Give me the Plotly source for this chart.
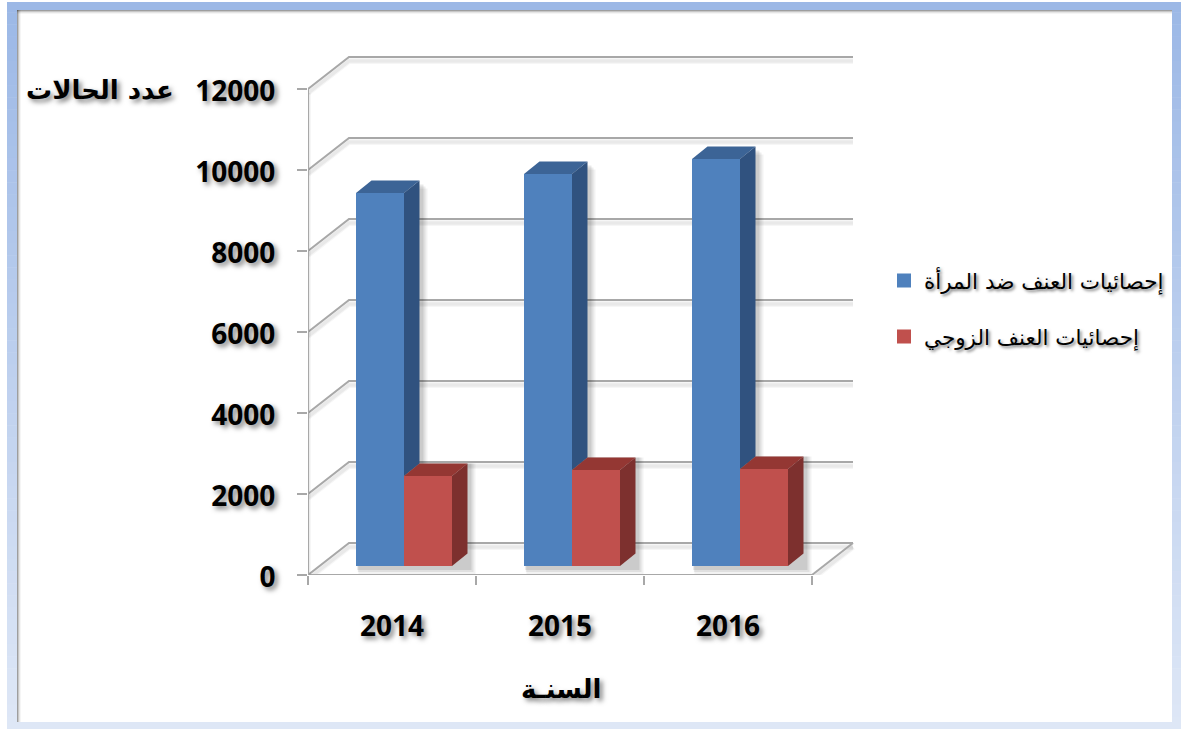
import plotly.graph_objects as go

# ---- data ----
years = ["2014", "2015", "2016"]
women = [9210, 9680, 10050]
spousal = [2220, 2370, 2395]
y_ticks = [0, 2000, 4000, 6000, 8000, 10000, 12000]
y_tick_labels = ["0", "2000", "4000", "6000", "8000", "10000", "12000"]
name_women = "إحصائيات العنف ضد المرأة"
name_spousal = "إحصائيات العنف الزوجي"
title_y = "عدد الحالات"
title_x = "السنـة"

# ---- geometry (page pixels -> axis scales) ----
W, H = 1181, 729
LAYOUT_H = 749
PX_X0, PX_Y0 = 308, 575
PX_PER_X = 168.0
PX_PER_Y = 0.0405
PX_RIGHT, PX_TOP = 870, 45
x_range = [0, (PX_RIGHT - PX_X0) / PX_PER_X]
y_range = [0, (PX_Y0 - PX_TOP) / PX_PER_Y]
def dxp(p): return p / PX_PER_X
def dyp(p): return p / PX_PER_Y

WALL_DX, WALL_DY = dxp(41), dyp(32)
WALL_END = dxp(853 - PX_X0)
BAR_W = dxp(48)
BAR_START = dxp(48)
BAR_FLOOR = dyp(9)
BAR_DX, BAR_DY = dxp(15.5), dyp(12.5)
GRID = "#a8a8a8"

fig = go.Figure()

def poly(xs, ys, color, axes=("x", "y")):
    fig.add_trace(go.Scatter(x=xs + xs[:1], y=ys + ys[:1], mode="lines", fill="toself",
                             fillcolor=color, line=dict(width=0), hoverinfo="skip",
                             showlegend=False, xaxis=axes[0], yaxis=axes[1], cliponaxis=False))

def wall_line(xs, ys):
    for off, w, a in [(4, 6, 0.035), (4, 3.5, 0.05)]:
        fig.add_trace(go.Scatter(x=xs, y=[v - dyp(off) for v in ys], mode="lines",
                                 line=dict(color=f"rgba(0,0,0,{a})", width=w), hoverinfo="skip",
                                 showlegend=False, cliponaxis=False))
    fig.add_trace(go.Scatter(x=xs, y=ys, mode="lines", line=dict(color=GRID, width=2),
                             hoverinfo="skip", showlegend=False, cliponaxis=False))

# back wall grid lines and floor
for v in y_ticks:
    wall_line([0, WALL_DX, WALL_END], [v, v + WALL_DY, v + WALL_DY])
wall_line([len(years), WALL_END], [0, WALL_DY])
wall_line([0, len(years)], [0, 0])

# soft bar shadows
for i in range(len(years)):
    left = i + BAR_START
    right = left + 2 * BAR_W
    for off, a in [(8, 0.05), (6, 0.07), (4, 0.09)]:
        ox, oy = dxp(off), dyp(off)
        poly([left + ox * 0.3, right + BAR_DX + ox, right + BAR_DX + ox, left + ox * 0.3],
             [BAR_FLOOR - oy, BAR_FLOOR - oy, spousal[i] + BAR_FLOOR + BAR_DY, spousal[i] + BAR_FLOOR + BAR_DY],
             f"rgba(0,0,0,{a})")
        poly([left + BAR_W, left + BAR_W + BAR_DX + ox, left + BAR_W + BAR_DX + ox, left + BAR_W],
             [BAR_FLOOR, BAR_FLOOR, women[i] + BAR_FLOOR + BAR_DY - oy, women[i] + BAR_FLOOR + BAR_DY - oy],
             f"rgba(0,0,0,{a})")

# front faces
fig.add_trace(go.Bar(x=[i + BAR_START + BAR_W / 2 for i in range(3)], y=women, base=BAR_FLOOR,
                     width=BAR_W, name=name_women, showlegend=False, marker=dict(color="#4f81bd", line=dict(width=0)),
                     xaxis="x2", yaxis="y2", legendgroup="a"))
fig.add_trace(go.Bar(x=[i + BAR_START + 1.5 * BAR_W for i in range(3)], y=spousal, base=BAR_FLOOR,
                     width=BAR_W, name=name_spousal, showlegend=False, marker=dict(color="#c0504d", line=dict(width=0)),
                     xaxis="x2", yaxis="y2", legendgroup="b"))
# legend keys
fig.add_trace(go.Bar(x=[None], y=[None], name=name_women, legendgroup="a",
                     marker=dict(color="#4f81bd", line=dict(color="#4f81bd", width=2))))
fig.add_trace(go.Bar(x=[None], y=[None], name=name_spousal, legendgroup="b",
                     marker=dict(color="#c0504d", line=dict(color="#c0504d", width=2))))

# top and side faces (drawn from the values)
ax2 = ("x2", "y2")
for i in range(3):
    l = i + BAR_START
    m = l + BAR_W
    r = m + BAR_W
    tw = women[i] + BAR_FLOOR
    ts = spousal[i] + BAR_FLOOR
    poly([m, m + BAR_DX, m + BAR_DX, m], [tw, tw + BAR_DY, ts + BAR_DY, ts], "#30527f", ax2)
    poly([l, l + BAR_DX, m + BAR_DX, m], [tw, tw + BAR_DY, tw + BAR_DY, tw], "#3c6496", ax2)
    poly([r, r + BAR_DX, r + BAR_DX, r], [ts, ts + BAR_DY, BAR_FLOOR + BAR_DY, BAR_FLOOR], "#7d302e", ax2)
    poly([m, m + BAR_DX, r + BAR_DX, r], [ts, ts + BAR_DY, ts + BAR_DY, ts], "#943733", ax2)

# page frame
shapes = []
def rect(x0, y0, x1, y1, color):
    shapes.append(dict(type="rect", xref="paper", yref="paper", x0=x0 / W, x1=x1 / W,
                       y0=1 - y0 / H, y1=1 - y1 / H, fillcolor=color, line_width=0, layer="below"))
def mix(c1, c2, t):
    return "rgb(%d,%d,%d)" % tuple(round(a + (b - a) * t) for a, b in zip(c1, c2))
TOP_C, BOT_C = (156, 184, 230), (222, 231, 246)
STEPS = 60
for k in range(STEPS):
    a, b = H * k / STEPS, H * (k + 1) / STEPS
    c = mix(TOP_C, BOT_C, k / (STEPS - 1))
    rect(7, max(a, 2), 17, b + 0.5, c)
    rect(1172, max(a, 2), 1181, b + 0.5, c)
rect(7, 2, 1181, 10, mix(TOP_C, BOT_C, 0))
rect(7, 722, 1181, 729, mix(TOP_C, BOT_C, 1))
for k, a in enumerate([0.38, 0.22, 0.10, 0.04]):
    rect(17, 10 + k, 1172, 11 + k, f"rgba(0,0,0,{a})")
    rect(17 + k, 10, 18 + k, 722, f"rgba(0,0,0,{a})")

TS = "3px 3px 5px rgba(0,0,0,0.5)"
num_font = dict(family="Open Sans", size=28, color="black", weight="bold", shadow=TS)
ar_font = dict(family="DejaVu Sans", size=26, color="black", weight="bold", shadow=TS)

axis_common = dict(showgrid=False, zeroline=False)
fig.update_layout(
    width=W, height=LAYOUT_H, margin=dict(l=0, r=0, t=0, b=0), autosize=False,
    paper_bgcolor="white", plot_bgcolor="rgba(0,0,0,0)",
    barmode="overlay", shapes=shapes,
    xaxis=dict(domain=[PX_X0 / W, PX_RIGHT / W], range=x_range, anchor="y",
               tickmode="array", tickvals=[i + 0.5 for i in range(3)], ticktext=years,
               ticks="", tickfont=num_font, ticklabelstandoff=32,
               showline=False,
               minor=dict(tickmode="array", tickvals=[0, 1, 2, 3], ticks="outside", ticklen=9,
                          tickcolor=GRID, tickwidth=2), **axis_common),
    yaxis=dict(domain=[1 - PX_Y0 / H, 1 - PX_TOP / H], range=y_range, anchor="x",
               tickmode="array", tickvals=y_ticks, ticktext=y_tick_labels, ticks="outside", ticklen=10,
               tickcolor=GRID, tickwidth=2, tickfont=num_font, showline=False, ticklabelstandoff=16,
               ticklabelshift=2, **axis_common),
    xaxis2=dict(domain=[PX_X0 / W, PX_RIGHT / W], range=x_range, overlaying="x", visible=False,
                anchor="y2", **axis_common),
    yaxis2=dict(domain=[1 - PX_Y0 / H, 1 - PX_TOP / H], range=y_range, overlaying="y", visible=False,
                anchor="x2", **axis_common),
    legend=dict(x=884 / W, xanchor="left", y=1 - 260 / H, yanchor="top", traceorder="grouped",
                tracegroupgap=25, itemclick=False, itemdoubleclick=False,
                font=dict(family="DejaVu Sans", size=21.5, color="black", shadow="2px 2px 3px rgba(0,0,0,0.5)"),
                bgcolor="rgba(0,0,0,0)", itemwidth=30),
    annotations=[
        dict(text=title_y, xref="paper", yref="paper", x=100 / W, y=1 - 90 / H, showarrow=False,
             xanchor="center", yanchor="middle", font=ar_font),
        dict(text=title_x, xref="paper", yref="paper", x=561 / W, y=1 - 689 / H, showarrow=False,
             xanchor="center", yanchor="middle", font=ar_font),
    ],
)
# y axis front line, with its shadow
wall_line([0, 0], [0, y_ticks[-1]])

fig.write_html("out.html", config=dict(displayModeBar=False),
               post_script="document.body.style.margin='0';document.documentElement.style.overflow='hidden';")
